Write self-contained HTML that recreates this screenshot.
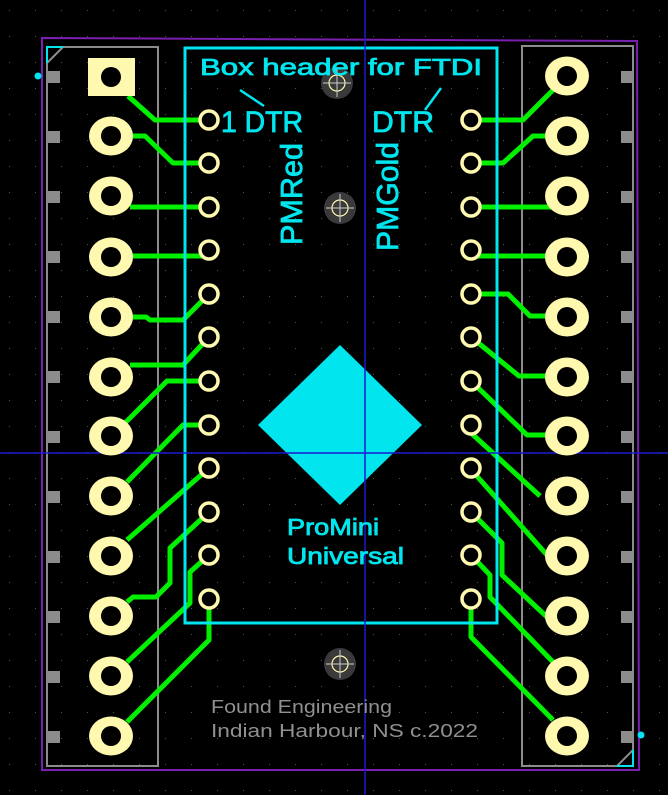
<!DOCTYPE html>
<html><head><meta charset="utf-8"><style>
html,body{margin:0;padding:0;background:#000;width:668px;height:795px;overflow:hidden}
svg{display:block}
text{font-family:"Liberation Sans","DejaVu Sans",sans-serif}
</style></head><body>
<svg width="668" height="795" viewBox="0 0 668 795" xmlns="http://www.w3.org/2000/svg">
<defs>
<pattern id="g" width="26" height="26" patternUnits="userSpaceOnUse" x="9" y="10">
<rect x="0" y="0" width="1" height="1" fill="#555"/>
</pattern>
</defs>
<rect width="668" height="795" fill="#000"/>
<rect width="668" height="795" fill="url(#g)"/>
<path d="M42,38 L637,41 L639,770 L42,770 Z" fill="none" stroke="#7a1fb0" stroke-width="2"/>
<rect x="47" y="47" width="111" height="719" fill="none" stroke="#8c8c8c" stroke-width="2"/>
<rect x="522" y="46" width="111" height="720" fill="none" stroke="#8c8c8c" stroke-width="2"/>
<path d="M47,63 L63,47" stroke="#8c8c8c" stroke-width="2"/>
<path d="M617,766 L633,750" stroke="#8c8c8c" stroke-width="2"/>
<path d="M47,63 V47 H63" fill="none" stroke="#00e5ee" stroke-width="2"/>
<path d="M617,766 H633 V750" fill="none" stroke="#00e5ee" stroke-width="2"/>
<circle cx="38" cy="76" r="3.5" fill="#00e5ee"/>
<circle cx="641" cy="735" r="3.5" fill="#00e5ee"/>
<g fill="#8c8c8c">
<rect x="48" y="71" width="12" height="12"/><rect x="48" y="131" width="12" height="12"/><rect x="48" y="191" width="12" height="12"/><rect x="48" y="251" width="12" height="12"/><rect x="48" y="311" width="12" height="12"/><rect x="48" y="371" width="12" height="12"/><rect x="48" y="431" width="12" height="12"/><rect x="48" y="491" width="12" height="12"/><rect x="48" y="551" width="12" height="12"/><rect x="48" y="611" width="12" height="12"/><rect x="48" y="671" width="12" height="12"/><rect x="48" y="731" width="12" height="12"/>
<rect x="621" y="71" width="12" height="12"/><rect x="621" y="131" width="12" height="12"/><rect x="621" y="191" width="12" height="12"/><rect x="621" y="251" width="12" height="12"/><rect x="621" y="311" width="12" height="12"/><rect x="621" y="371" width="12" height="12"/><rect x="621" y="431" width="12" height="12"/><rect x="621" y="491" width="12" height="12"/><rect x="621" y="551" width="12" height="12"/><rect x="621" y="611" width="12" height="12"/><rect x="621" y="671" width="12" height="12"/><rect x="621" y="731" width="12" height="12"/>
</g>
<g fill="none" stroke="#00f000" stroke-width="5" stroke-linejoin="round">
<polyline points="128,96 155,120 209,120"/>
<polyline points="130,136 145,136 173,163 209,163"/>
<polyline points="130,207 209,207"/>
<polyline points="130,256 209,256"/>
<polyline points="130,317 146,317 150,320 183,320 209,294"/>
<polyline points="130,365 183,365 209,337"/>
<polyline points="125,423 167,381 209,381"/>
<polyline points="127,482 183,425 209,425"/>
<polyline points="127,540 209,468"/>
<polyline points="209,512 170,548 170,583 156,597 133,597 127,602"/>
<polyline points="209,555 190,572 190,603 127,662"/>
<polyline points="209,599 209,640 127,722"/>
<polyline points="471,120 523,120 553,90"/>
<polyline points="471,163 503,163 533,136 560,136"/>
<polyline points="471,207 555,207"/>
<polyline points="471,256 555,256"/>
<polyline points="471,294 508,294 530,316 560,316"/>
<polyline points="471,337 519,376 555,376"/>
<polyline points="471,381 527,435 550,435"/>
<polyline points="471,425 471,433 540,496"/>
<polyline points="471,468 475,474 547,555"/>
<polyline points="471,512 502,543 502,575 547,617"/>
<polyline points="471,555 490,575 490,597 553,662"/>
<polyline points="471,599 471,637 553,720"/>
</g>
<rect x="185" y="48" width="312" height="575" fill="none" stroke="#00e5ee" stroke-width="3"/>
<polygon points="340,345 422,425 340,505 258,425" fill="#00e5ee"/>
<line x1="365" y1="0" x2="365" y2="795" stroke="#1a1ad0" stroke-width="1.5"/>
<line x1="0" y1="453" x2="668" y2="453" stroke="#1a1ad0" stroke-width="1.5"/>
<g fill="#fff9b0">
<rect x="88" y="58" width="47" height="38"/>
<ellipse cx="111" cy="136" rx="22" ry="19.5"/><ellipse cx="111" cy="196" rx="22" ry="19.5"/><ellipse cx="111" cy="257" rx="22" ry="19.5"/><ellipse cx="111" cy="317" rx="22" ry="19.5"/><ellipse cx="111" cy="377" rx="22" ry="19.5"/><ellipse cx="111" cy="436" rx="22" ry="19.5"/><ellipse cx="111" cy="496" rx="22" ry="19.5"/><ellipse cx="111" cy="556" rx="22" ry="19.5"/><ellipse cx="111" cy="616" rx="22" ry="19.5"/><ellipse cx="111" cy="676" rx="22" ry="19.5"/><ellipse cx="111" cy="736" rx="22" ry="19.5"/>
<ellipse cx="567" cy="76" rx="22" ry="19.5"/><ellipse cx="567" cy="136" rx="22" ry="19.5"/><ellipse cx="567" cy="196" rx="22" ry="19.5"/><ellipse cx="567" cy="257" rx="22" ry="19.5"/><ellipse cx="567" cy="317" rx="22" ry="19.5"/><ellipse cx="567" cy="377" rx="22" ry="19.5"/><ellipse cx="567" cy="436" rx="22" ry="19.5"/><ellipse cx="567" cy="496" rx="22" ry="19.5"/><ellipse cx="567" cy="556" rx="22" ry="19.5"/><ellipse cx="567" cy="616" rx="22" ry="19.5"/><ellipse cx="567" cy="676" rx="22" ry="19.5"/><ellipse cx="567" cy="736" rx="22" ry="19.5"/>
</g>
<g fill="#000">
<circle cx="111" cy="77" r="10"/><circle cx="111" cy="136" r="10"/><circle cx="111" cy="196" r="10"/><circle cx="111" cy="257" r="10"/><circle cx="111" cy="317" r="10"/><circle cx="111" cy="377" r="10"/><circle cx="111" cy="436" r="10"/><circle cx="111" cy="496" r="10"/><circle cx="111" cy="556" r="10"/><circle cx="111" cy="616" r="10"/><circle cx="111" cy="676" r="10"/><circle cx="111" cy="736" r="10"/>
<circle cx="567" cy="76" r="10"/><circle cx="567" cy="136" r="10"/><circle cx="567" cy="196" r="10"/><circle cx="567" cy="257" r="10"/><circle cx="567" cy="317" r="10"/><circle cx="567" cy="377" r="10"/><circle cx="567" cy="436" r="10"/><circle cx="567" cy="496" r="10"/><circle cx="567" cy="556" r="10"/><circle cx="567" cy="616" r="10"/><circle cx="567" cy="676" r="10"/><circle cx="567" cy="736" r="10"/>
</g>
<g fill="#000" stroke="#fff9b0" stroke-width="3.5">
<circle cx="209" cy="120" r="9"/><circle cx="209" cy="163" r="9"/><circle cx="209" cy="207" r="9"/><circle cx="209" cy="250" r="9"/><circle cx="209" cy="294" r="9"/><circle cx="209" cy="337" r="9"/><circle cx="209" cy="381" r="9"/><circle cx="209" cy="425" r="9"/><circle cx="209" cy="468" r="9"/><circle cx="209" cy="512" r="9"/><circle cx="209" cy="555" r="9"/><circle cx="209" cy="599" r="9"/>
<circle cx="471" cy="120" r="9"/><circle cx="471" cy="163" r="9"/><circle cx="471" cy="207" r="9"/><circle cx="471" cy="250" r="9"/><circle cx="471" cy="294" r="9"/><circle cx="471" cy="337" r="9"/><circle cx="471" cy="381" r="9"/><circle cx="471" cy="425" r="9"/><circle cx="471" cy="468" r="9"/><circle cx="471" cy="512" r="9"/><circle cx="471" cy="555" r="9"/><circle cx="471" cy="599" r="9"/>
</g>
<g>
<circle cx="337" cy="83" r="16" fill="#3a3a3a"/><circle cx="337" cy="83" r="8" fill="none" stroke="#fff9b0" stroke-width="1.2"/>
<line x1="323" y1="83" x2="351" y2="83" stroke="#ccc" stroke-width="1"/><line x1="337" y1="69" x2="337" y2="97" stroke="#ccc" stroke-width="1"/>
<circle cx="340" cy="208" r="16" fill="#3a3a3a"/><circle cx="340" cy="208" r="8" fill="none" stroke="#fff9b0" stroke-width="1.2"/>
<line x1="326" y1="208" x2="354" y2="208" stroke="#ccc" stroke-width="1"/><line x1="340" y1="194" x2="340" y2="222" stroke="#ccc" stroke-width="1"/>
<circle cx="340" cy="664" r="16" fill="#3a3a3a"/><circle cx="340" cy="664" r="8" fill="none" stroke="#fff9b0" stroke-width="1.2"/>
<line x1="326" y1="664" x2="354" y2="664" stroke="#ccc" stroke-width="1"/><line x1="340" y1="650" x2="340" y2="678" stroke="#ccc" stroke-width="1"/>
</g>
<g fill="#00e5ee" stroke="#00e5ee" stroke-width="0.8">
<text x="200" y="75" font-size="23" textLength="282" lengthAdjust="spacingAndGlyphs">Box header for FTDI</text>
<text x="221" y="132" font-size="30" textLength="82" lengthAdjust="spacingAndGlyphs">1 DTR</text>
<text x="372" y="132" font-size="30" textLength="62" lengthAdjust="spacingAndGlyphs">DTR</text>
<text transform="translate(302,245) rotate(-90)" font-size="31" textLength="102" lengthAdjust="spacingAndGlyphs">PMRed</text>
<text transform="translate(398,251) rotate(-90)" font-size="31" textLength="109" lengthAdjust="spacingAndGlyphs">PMGold</text>
<text x="287" y="535" font-size="23" textLength="92" lengthAdjust="spacingAndGlyphs">ProMini</text>
<text x="287" y="564" font-size="23" textLength="117" lengthAdjust="spacingAndGlyphs">Universal</text>
</g>
<g stroke="#00e5ee" stroke-width="2.5">
<line x1="240" y1="90" x2="264" y2="106"/>
<line x1="441" y1="88" x2="425" y2="110"/>
</g>
<g fill="#909090">
<text x="211" y="713" font-size="18" textLength="181" lengthAdjust="spacingAndGlyphs">Found Engineering</text>
<text x="211" y="737" font-size="18" textLength="267" lengthAdjust="spacingAndGlyphs">Indian Harbour, NS c.2022</text>
</g>
</svg>
</body></html>
